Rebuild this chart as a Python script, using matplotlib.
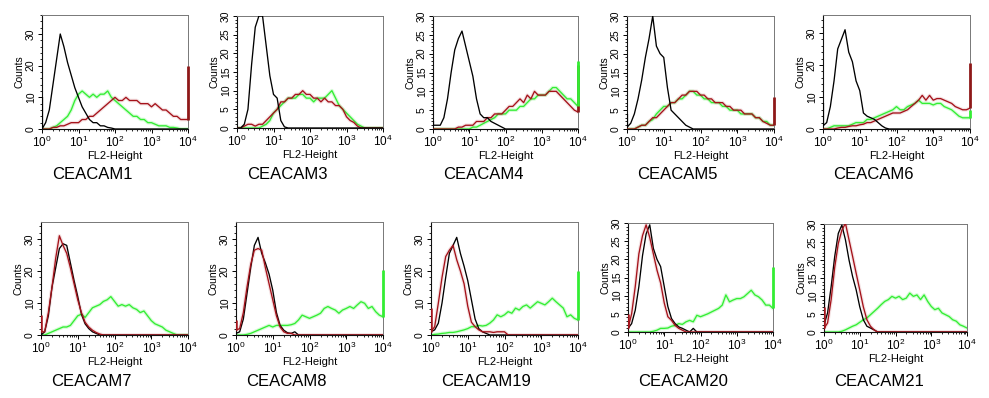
import numpy as np
import matplotlib
matplotlib.use("Agg")
import matplotlib.pyplot as plt
from matplotlib.ticker import FixedLocator, MultipleLocator, NullFormatter

plt.rcParams['font.family'] = ['Liberation Sans', 'DejaVu Sans']
plt.rcParams['mathtext.fontset'] = 'custom'
plt.rcParams['mathtext.rm'] = 'Liberation Sans'
plt.rcParams['mathtext.it'] = 'Liberation Sans'

# ---------------- data ----------------
# log10 of FL2-Height channel, shared bin grid
log_fl2 = [0.0, 0.1, 0.2, 0.3, 0.4, 0.5, 0.6, 0.7, 0.8, 0.9,
           1.0, 1.1, 1.2, 1.3, 1.4, 1.5, 1.6, 1.7, 1.8, 1.9,
           2.0, 2.1, 2.2, 2.3, 2.4, 2.5, 2.6, 2.7, 2.8, 2.9,
           3.0, 3.1, 3.2, 3.3, 3.4, 3.5, 3.6, 3.7, 3.8, 3.9,
           4.0]

panels = ['CEACAM1', 'CEACAM3', 'CEACAM4', 'CEACAM5', 'CEACAM6',
          'CEACAM7', 'CEACAM8', 'CEACAM19', 'CEACAM20', 'CEACAM21']

Z10 = [0] * 10

black_counts = {
    'CEACAM1': [0, 2, 6, 14, 22, 30, 26, 21, 17, 13] + [10, 7, 5, 3, 2, 2, 1, 1, 0.5, 0.3] + Z10 + Z10 + [0],
    'CEACAM3': [0, 0, 1, 5, 17, 27, 30, 30, 22, 14] + [9, 8, 2, 0.3, 0, 0, 0, 0, 0, 0] + Z10 + Z10 + [0],
    'CEACAM4': [1, 1, 1, 3, 8, 15, 21, 24, 26, 22] + [18, 14, 8, 4, 3, 3, 2, 1.5, 1, 0.5] + Z10 + Z10 + [0],
    'CEACAM5': [0.5, 1.5, 4, 8, 13, 19, 24, 30, 22, 20] + [19, 11, 5, 4, 3, 2, 1, 0.5, 0, 0] + Z10 + Z10 + [0],
    'CEACAM6': [1, 2, 7, 15, 25, 28, 31, 24, 21, 15] + [12, 5, 4, 3.5, 3, 2, 1, 0.3, 0, 0] + Z10 + Z10 + [0],
    'CEACAM7': [0, 1, 6, 15, 21, 27, 28.5, 28, 22.5, 17] + [12, 6.5, 3.5, 2, 1, 0.5, 0, 0, 0, 0] + Z10 + Z10 + [0],
    'CEACAM8': [0.5, 1, 5, 13, 21, 28, 30.5, 25.5, 22.5, 19] + [14, 7, 3, 1.5, 0.7, 0.5, 1, 0, 0, 0] + Z10 + Z10 + [0],
    'CEACAM19': [1, 1.6, 3.7, 10, 18, 25.5, 28, 30.5, 25.5, 21.5] + [17, 11, 5, 2, 1, 0.5, 0, 0, 0, 0] + Z10 + Z10 + [0],
    'CEACAM20': [1, 2.3, 6, 12.5, 21, 27, 29.5, 23, 20, 18] + [12.5, 7, 3.7, 2.3, 1.4, 1, 0.5, 0, 1, 0] + Z10 + Z10 + [0],
    'CEACAM21': [2, 5.3, 12.6, 21, 27.4, 29.7, 25.6, 20, 15.4, 11.7] + [7, 3.4, 1.6, 1.1, 0.6, 0, 0, 0, 0, 0] + Z10 + Z10 + [0],
}

green_counts = {
    'CEACAM1': [0, 0, 0, 0.5, 1, 2, 3, 4, 6, 9] + [11, 12, 11, 10, 11, 10, 11, 11, 12, 10]
               + [9, 8, 7, 6, 5, 4, 4, 3, 3, 2] + [2, 1.5, 1, 1, 1, 0.5, 0.5, 0.3, 0, 0] + [0],
    'CEACAM3': [0, 0, 0, 0, 0, 0, 0, 0.5, 1, 2] + [4, 5, 6, 7, 8, 8, 8, 9, 9, 8]
               + [8, 7, 8, 8, 8, 9, 10, 8, 6, 5] + [4, 3, 2, 1, 0.5, 0, 0, 0, 0, 0] + [0],
    'CEACAM4': [0, 0, 0, 0, 0, 0, 0, 0, 0, 0] + [0, 0.5, 0.5, 1, 1.5, 2, 2.5, 3, 4, 4]
               + [4, 5, 5, 5, 6, 6, 7, 8, 8, 9] + [9, 9, 10, 11, 11, 10, 9, 8, 8, 7] + [6],
    'CEACAM5': [0, 0, 0, 0.5, 1, 1, 2, 2.5, 4, 5] + [6, 6, 7, 7, 8, 8, 9, 10, 10, 9]
               + [9, 8, 8, 7, 7, 7, 6, 6, 5, 5] + [5, 4, 4, 4, 4, 3, 3, 2, 2, 1] + [1],
    'CEACAM6': [0, 0, 0.5, 1, 1, 1, 1, 1, 1.5, 2] + [2, 2, 3, 3, 3.5, 4, 4.5, 5, 5.5, 6]
               + [7, 6, 6, 7, 7.5, 8, 9, 8, 8, 8] + [7.5, 8, 8, 7, 6.5, 6, 5, 4, 3.5, 3.5] + [3.5],
    'CEACAM7': [0, 0, 0.5, 1, 1.5, 2, 2.5, 2.5, 3, 4.5] + [6, 6.5, 5.5, 7, 8.5, 9, 9.5, 10.5, 11, 12]
               + [10.5, 9, 9.5, 9, 9.5, 8.5, 8, 7, 7.5, 6] + [4.5, 3.5, 3, 2.5, 1.5, 1, 0.5, 0, 0, 0] + [0],
    'CEACAM8': [0, 0, 0, 0.2, 0.5, 1, 1.5, 2, 2.5, 3] + [2.5, 3, 3, 3, 3, 3.2, 3.6, 4.7, 6.2, 5.7]
               + [5.2, 5.7, 6.2, 6.8, 8.3, 8.9, 8.3, 7.8, 6.8, 7.8] + [8.3, 8.9, 8.3, 9.4, 10.4, 9.9, 8.3, 8.9, 7.3, 6.2] + [5.7],
    'CEACAM19': [0, 0.2, 0.3, 0.5, 0.6, 0.8, 0.8, 1, 1.3, 1.6] + [2, 2.6, 2.6, 3, 2.8, 3, 3.7, 4.7, 6.3, 5.7]
                + [6.3, 7.3, 6.8, 8.4, 7.8, 8.9, 9.4, 8.4, 9.4, 10.4] + [9.9, 9.4, 10.4, 11.5, 10.4, 9.4, 8.4, 5.7, 6.3, 5.2] + [4.7],
    'CEACAM20': [0, 0, 0, 0, 0, 0, 0, 0.2, 0.5, 1] + [1, 1.1, 1.6, 1.8, 2.3, 2.1, 2.8, 3.2, 2.8, 4.6]
                + [4.2, 4.6, 5, 5.5, 6, 6.5, 7.4, 10.2, 8.3, 8.8] + [9.2, 9.2, 9.7, 10.6, 11.5, 10.2, 9.7, 8.8, 7.4, 7.4] + [6.5],
    'CEACAM21': [0, 0, 0, 0, 0, 0.2, 0.6, 1.1, 1.6, 2] + [2.7, 3.4, 3.9, 4.8, 5.7, 6.6, 7.6, 8.5, 9, 9.9]
                + [9.4, 9.9, 9, 9.4, 10.8, 9.9, 10.3, 9, 10.3, 8.5] + [7.1, 6.2, 6.6, 5.3, 4.8, 4.3, 3.4, 3, 2, 1.6] + [1.1],
}

red_counts = {
    'CEACAM1': [0, 0, 0, 0.5, 0.5, 1, 1, 1.5, 2, 2] + [2, 3, 3, 4, 4, 5, 6, 7, 8, 9]
               + [10, 9, 9, 10, 9, 9, 9, 8, 8, 8] + [7, 8, 7, 6, 6, 5, 4, 4, 3, 3] + [3],
    'CEACAM3': [0, 0, 0.5, 1, 1, 0.5, 1, 1, 2, 3] + [4, 5, 7, 7, 8, 8, 9, 9, 10, 9]
               + [9, 8, 8, 7, 8, 7, 7, 6, 6, 5] + [3, 2, 1.5, 0.5, 0, 0, 0, 0, 0, 0] + [0],
    'CEACAM4': [0, 0, 0, 0, 0, 0, 0, 0.5, 0.5, 1] + [1, 1, 2, 2, 2, 3, 3, 4, 4, 4]
               + [5, 6, 6, 7, 8, 7, 9, 8, 10, 9] + [9, 9, 10, 10, 10, 9, 8, 7, 6, 5] + [4.5],
    'CEACAM5': [0, 0, 0, 0.5, 1, 1, 2, 3, 3, 4] + [5, 6, 7, 7, 8, 9, 9, 10, 10, 10]
               + [9, 9, 8, 8, 7, 7, 7, 6, 6, 5] + [5, 5, 4, 4, 4, 3, 3, 2, 1.5, 1] + [1],
    'CEACAM6': [0, 0, 0, 0, 0.3, 0.5, 0.5, 0.8, 1, 1] + [1.3, 1.5, 2, 2, 2.5, 3, 3.5, 4, 4.5, 5]
               + [5, 5, 5.5, 6, 7, 8, 9, 10.5, 9, 10.5] + [9, 9.5, 9.5, 9, 8.5, 8, 7, 6.5, 6, 6] + [6.5],
    'CEACAM7': [1, 1, 7, 15, 24, 31, 28, 25.5, 21, 16] + [11, 7, 4, 2.5, 1.5, 0.8, 0.3, 0, 0, 0] + Z10 + Z10 + [0],
    'CEACAM8': [1.5, 2, 7, 15, 22, 26.5, 27, 26.5, 21, 16] + [11, 6, 2.5, 1, 0.5, 0.5, 0, 0, 0, 0] + Z10 + Z10 + [0],
    'CEACAM19': [1, 2.6, 10, 18, 24.5, 26.5, 28, 23.5, 20, 16] + [9, 4, 2.6, 1.6, 1, 1, 1, 0.8, 1, 1]
                + [1, 0, 0, 0, 0, 0, 0, 0, 0, 0] + Z10 + [0],
    'CEACAM20': [1, 5, 12.5, 21.5, 26.5, 29.5, 26, 21.5, 17, 13.5] + [8, 4.2, 3.2, 1.8, 1, 0.5, 0, 0, 0, 0] + Z10 + Z10 + [0],
    'CEACAM21': [1, 2.5, 9, 18, 24.6, 28.3, 30.2, 25.6, 21, 16.3] + [11.7, 7, 3.4, 1.6, 0.6, 0, 0, 0, 0, 0] + Z10 + Z10 + [0],
}

# pile-up counts in the first (10^0) and last (10^4) channel
black_left_spike = {'CEACAM1': 10, 'CEACAM4': 2, 'CEACAM5': 4, 'CEACAM6': 8, 'CEACAM21': 10}
red_left_spike = {'CEACAM7': 6.3, 'CEACAM8': 4.7, 'CEACAM19': 8.4, 'CEACAM20': 5, 'CEACAM21': 7}
red_right_spike = {'CEACAM1': 20, 'CEACAM4': 17, 'CEACAM5': 8.5, 'CEACAM6': 20.5}
green_right_spike = {'CEACAM4': 18, 'CEACAM6': 6, 'CEACAM8': 20.3, 'CEACAM19': 20, 'CEACAM20': 18}

y_max = {'CEACAM1': 36, 'CEACAM3': 30, 'CEACAM4': 30, 'CEACAM5': 30, 'CEACAM6': 35.6,
         'CEACAM7': 35.3, 'CEACAM8': 35.3, 'CEACAM19': 35.3, 'CEACAM20': 30, 'CEACAM21': 30}
y_step = {'CEACAM1': 10, 'CEACAM3': 5, 'CEACAM4': 5, 'CEACAM5': 5, 'CEACAM6': 10,
          'CEACAM7': 10, 'CEACAM8': 10, 'CEACAM19': 10, 'CEACAM20': 5, 'CEACAM21': 5}
decade_ticks = [0, 1, 2, 3, 4]

# ---------------- layout (pixel boxes: left, right, top, bottom) ----------------
W, H = 989, 398
boxes = {
    'CEACAM1': (42, 188, 15, 129), 'CEACAM3': (237, 383, 16, 128),
    'CEACAM4': (433, 578, 16, 129), 'CEACAM5': (627, 774, 16, 129),
    'CEACAM6': (823, 970, 15, 129),
    'CEACAM7': (41, 188, 222, 335), 'CEACAM8': (236, 383, 222, 335),
    'CEACAM19': (431, 578, 222, 335), 'CEACAM20': (628, 773, 223, 332),
    'CEACAM21': (824, 967, 224, 332),
}

GREEN = '#33ee33'
RED = '#a5121a'
BLACK = '#000000'

fig = plt.figure(figsize=(W / 100, H / 100), dpi=100)
fig.patch.set_facecolor('white')

x = 10 ** np.array(log_fl2)


def draw(ax, yvals, color, halo, z):
    y = np.array(yvals, dtype=float)
    if halo:
        ax.plot(x, y, color=color, lw=2.6, alpha=halo, zorder=z - 0.5, solid_joinstyle='round')
    ax.plot(x, y, color=color, lw=0.95, zorder=z)


for name in panels:
    l, r, t, b = boxes[name]
    ax = fig.add_axes([l / W, 1 - b / H, (r - l) / W, (b - t) / H])
    ax.set_xscale('log')
    ax.set_xlim(10 ** decade_ticks[0], 10 ** decade_ticks[-1])
    ax.set_ylim(0, y_max[name])

    draw(ax, green_counts[name], GREEN, 0.2, 2)
    row2 = name in ('CEACAM7', 'CEACAM8', 'CEACAM19', 'CEACAM20', 'CEACAM21')
    if row2:
        draw(ax, black_counts[name], BLACK, 0, 3)
        draw(ax, red_counts[name], RED, 0.12, 4)
    else:
        draw(ax, red_counts[name], RED, 0.12, 3)
        draw(ax, black_counts[name], BLACK, 0, 4)

    x0, x1 = 10 ** decade_ticks[0], 10 ** decade_ticks[-1]
    if name in black_left_spike:
        ax.vlines(x0, black_counts[name][0], black_left_spike[name], color=BLACK, lw=1.6, zorder=5)
    if name in red_left_spike:
        ax.vlines(x0, red_counts[name][0], red_left_spike[name], color=RED, lw=1.8, zorder=5)
    if name in red_right_spike:
        ax.vlines(x1, red_counts[name][-1], red_right_spike[name], color='#8e1818', lw=2.0, zorder=5,
                  clip_on=False)
    if name in green_right_spike:
        ax.vlines(x1, green_counts[name][-1], green_right_spike[name], color=GREEN, lw=2.0, zorder=5,
                  clip_on=False)

    # ticks
    ax.xaxis.set_major_locator(FixedLocator([10 ** d for d in decade_ticks]))
    ax.set_xticklabels([r'$\mathregular{10^{%d}}$' % d for d in decade_ticks], fontsize=8.5)
    ax.xaxis.set_minor_locator(FixedLocator([m * 10 ** d for d in decade_ticks[:-1] for m in range(2, 10)]))
    ax.xaxis.set_minor_formatter(NullFormatter())
    step = y_step[name]
    ax.yaxis.set_major_locator(MultipleLocator(step))
    ax.yaxis.set_minor_locator(MultipleLocator(step / 5))
    ax.tick_params(axis='both', which='major', direction='out', length=3, width=0.7, pad=1.5)
    ax.tick_params(axis='both', which='minor', direction='out', length=1.5, width=0.6)
    ax.tick_params(axis='y', labelsize=7.5, labelrotation=90)
    for lab in ax.get_yticklabels():
        lab.set_va('center')

    ax.set_ylabel('Counts', fontsize=7.5, labelpad=1)
    ax.set_xlabel('FL2-Height', fontsize=8, labelpad=0.5)

    for s in ('left', 'bottom'):
        ax.spines[s].set_color('#111111')
        ax.spines[s].set_linewidth(0.8)
    for s in ('top', 'right'):
        ax.spines[s].set_color('#777777')
        ax.spines[s].set_linewidth(0.7)

    label_y = 175 if not row2 else 382
    fig.text((l + 10) / W, 1 - label_y / H, name, fontsize=12, ha='left', va='center')

fig.savefig('out.png', dpi=100, facecolor='white')
